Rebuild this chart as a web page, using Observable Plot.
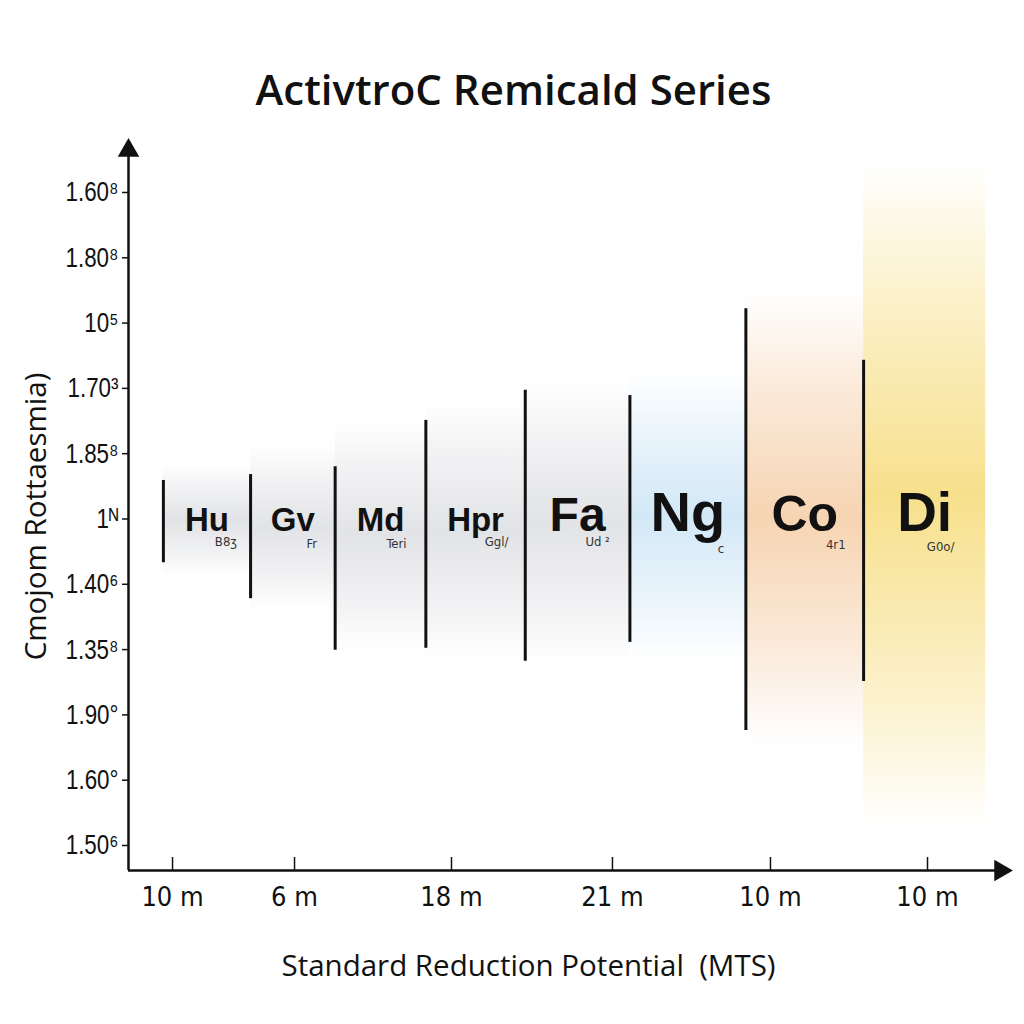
<!DOCTYPE html>
<html>
<head>
<meta charset="utf-8">
<script src="https://cdn.jsdelivr.net/npm/d3@7"></script>
<script src="https://cdn.jsdelivr.net/npm/@observablehq/plot@0.6"></script>
<style>
  html, body { margin: 0; padding: 0; background: #ffffff; }
  #chart { width: 1024px; height: 1024px; }
</style>
</head>
<body>
<div id="chart"></div>
<script>
// ---- data ----
const elements = ["Hu", "Gv", "Md", "Hpr", "Fa", "Ng", "Co", "Di"];
const subLabels = ["B8ʒ", "Fr", "Teri", "Ggl/", "Ud ²", "c", "4r1", "G0o/"];
const bandStart = [4.0, 14.0, 23.7, 34.1, 45.5, 57.5, 70.8, 84.3];
const bandEnd = [14.0, 23.7, 34.1, 45.5, 57.5, 70.8, 84.3, 98.3];
const lineTop = [5.59, 5.68, 5.80, 6.51, 6.97, 6.89, 8.22, 7.43];
const lineBottom = [4.33, 3.78, 2.99, 3.02, 2.82, 3.11, 1.76, 2.51];
const glowTop = [5.82, 6.13, 6.51, 6.81, 7.12, 7.27, 8.50, 10.49];
const glowBottom = [4.13, 3.60, 2.99, 2.83, 2.76, 2.83, 1.53, 0.23];
const tones = ["gray", "gray", "gray", "gray", "gray", "blue", "peach", "yellow"];
const symbolLevel = 4.82;
const yTickValues = [0, 1, 2, 3, 4, 5, 6, 7, 8, 9, 10];
const yTickLabels = ["1.50⁶", "1.60°", "1.90°", "1.35⁸", "1.40⁶", "1ᴺ", "1.85⁸", "1.70³", "10⁵", "1.80⁸", "1.60⁸"];
const xTickValues = [5.05, 19.04, 37.04, 55.5, 73.62, 91.63];
const xTickLabels = ["10 m", "6 m", "18 m", "21 m", "10 m", "10 m"];
const titleText = "ActivtroC Remicald Series";
const xTitle = "Standard Reduction Potential  (MTS)";
const yTitle = "Cmojom Rottaesmia)";

// ---- styles ----
const toneColors = { gray: "#e2e3e6", blue: "#d3e8f7", peach: "#f6d4b2", yellow: "#f7e08c" };
const symbolSize = [33, 33, 33, 33, 48, 56, 50, 55];
const subDx = [19, 19, 16, 21, 20, 33, 31, 16];
const subDy = [15, 17, 17, 15, 15, 22, 18, 20];

const rows = elements.map((e, i) => ({
  el: e, sub: subLabels[i], x1: bandStart[i], x2: bandEnd[i],
  mid: (bandStart[i] + bandEnd[i]) / 2,
  top: lineTop[i], bottom: lineBottom[i],
  gTop: glowTop[i], gBottom: glowBottom[i], tone: tones[i], i
}));

const xDomain = [0, 100];
const yDomain = [-0.383, 10.643];
const condensed = "'DejaVu Sans Condensed', 'Liberation Sans', sans-serif";
const sans = "'Open Sans', sans-serif";

const plot = Plot.plot({
  width: 1024,
  height: 1024,
  marginTop: 150,
  marginBottom: 154,
  marginLeft: 128,
  marginRight: 24,
  style: { background: "#ffffff", color: "#111" },
  x: { domain: xDomain, axis: null },
  y: { domain: yDomain, axis: null },
  color: { type: "identity" },
  marks: [
    // glow bands
    Plot.rect(rows, { x1: "x1", x2: "x2", y1: "gBottom", y2: "gTop", fill: d => `url(#glow-${d.tone})` }),
    // vertical bars
    Plot.ruleX(rows, { x: "x1", y1: "bottom", y2: "top", stroke: "#111", strokeWidth: 3 }),
    // element symbols
    Plot.text(rows, {
      x: "mid", y: () => symbolLevel, text: "el", lineAnchor: "bottom",
      fontFamily: "'Liberation Sans', Arial, sans-serif", fontWeight: "bold",
      fill: "#111", fontSize: d => symbolSize[d.i]
    }),
    // subscripts (one mark each so offsets can differ)
    ...rows.map(r => Plot.text([r], {
      x: "mid", y: () => symbolLevel, text: "sub", lineAnchor: "bottom",
      fontFamily: condensed, fill: "#333", fontSize: 13,
      dx: subDx[r.i], dy: subDy[r.i]
    })),
    // axes lines
    Plot.ruleX([xDomain[0]], { y1: yDomain[0], y2: yDomain[1], stroke: "#111", strokeWidth: 2.5 }),
    Plot.ruleY([yDomain[0]], { x1: xDomain[0], x2: xDomain[1], stroke: "#111", strokeWidth: 2.5 }),
    Plot.dot([[xDomain[0], yDomain[1]]], { x: d => d[0], y: d => d[1], symbol: "triangle", r: 8, fill: "#111", stroke: null }),
    Plot.dot([[xDomain[1], yDomain[0]]], { x: d => d[0], y: d => d[1], symbol: "triangle", r: 8, fill: "#111", stroke: null, rotate: 90 }),
    // y axis
    Plot.axisY({
      ticks: yTickValues, tickFormat: d => yTickLabels[d], tickSize: 6, tickPadding: 4,
      fontSize: 28, fontFamily: "'Liberation Sans', sans-serif", stroke: "#111", strokeWidth: 1.5, label: null
    }),
    // x ticks (pointing up) and labels
    Plot.tickX(xTickValues, { x: d => d, insetTop: 707, stroke: "#111", strokeWidth: 1.5 }),
    Plot.axisX({
      ticks: xTickValues, tickFormat: d => xTickLabels[xTickValues.indexOf(d)],
      tickSize: 0, tickPadding: 16, fontSize: 27, fontFamily: condensed, label: null
    }),
    // titles
    Plot.text([titleText], { frameAnchor: "top", dx: -51, dy: -75, text: d => d, fontSize: 42, fontWeight: 600, fontFamily: sans, fill: "#111" }),
    Plot.text([xTitle], { frameAnchor: "bottom", dx: -36, dy: 105, text: d => d, fontSize: 29.5, fontFamily: sans, fill: "#111" }),
    Plot.text([yTitle], { frameAnchor: "left", textAnchor: "middle", dx: -92, dy: 6, text: d => d, rotate: -90, fontSize: 29.5, fontFamily: sans, fill: "#111" })
  ]
});

// narrow the y tick labels to match the condensed numerals of the reference
d3.select(plot).selectAll("g[aria-label='y-axis tick label'] text").each(function () {
  const t = this.getAttribute("transform") || "";
  this.setAttribute("transform", t + " scale(0.8,1)");
});

// gradient definitions for the glow bands
const defs = d3.select(plot).insert("defs", ":first-child");
Object.entries(toneColors).forEach(([name, color]) => {
  const g = defs.append("linearGradient").attr("id", `glow-${name}`)
    .attr("x1", 0).attr("y1", 0).attr("x2", 0).attr("y2", 1);
  [[0, 0], [0.2, 0.45], [0.5, 1], [0.8, 0.45], [1, 0]].forEach(([o, a]) => {
    g.append("stop").attr("offset", o).attr("stop-color", color).attr("stop-opacity", a);
  });
});

document.getElementById("chart").appendChild(plot);
</script>
</body>
</html>
